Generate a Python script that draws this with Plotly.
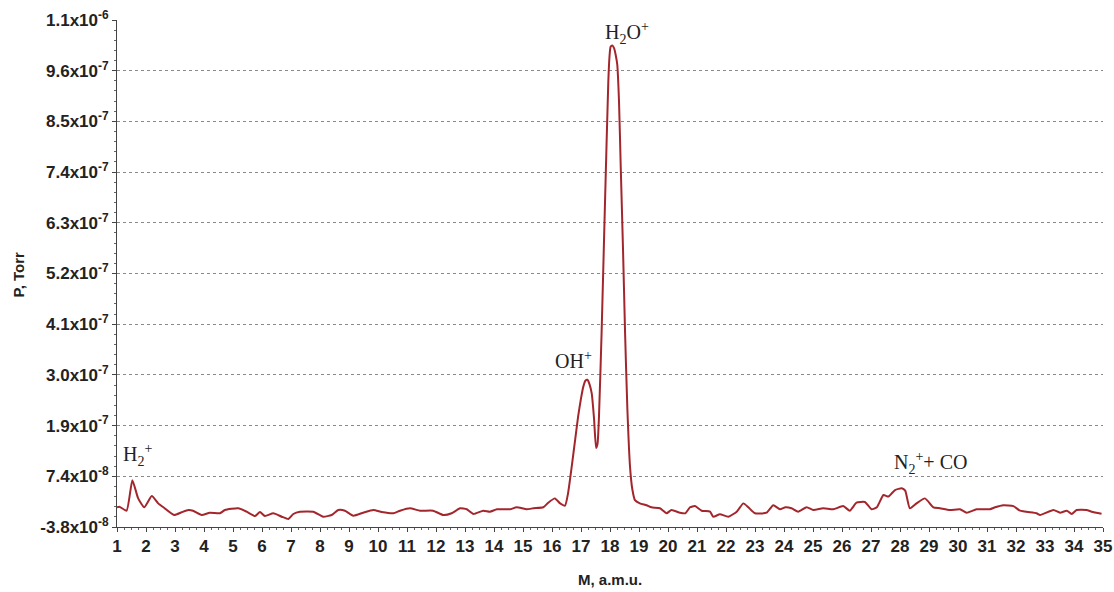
import numpy as np
import plotly.graph_objects as go

# mass (a.m.u.) and pressure (in units of 1e-8 Torr)
mass = [1.00, 1.08, 1.33, 1.53, 1.73, 1.94, 2.20, 2.42, 2.60, 2.97, 3.23, 3.46, 3.62, 3.92,
        4.20, 4.55, 4.72, 5.18, 5.47, 5.76, 5.93, 6.10, 6.39, 6.68, 6.91, 7.08, 7.31, 7.77,
        8.11, 8.40, 8.63, 8.86, 9.15, 9.49, 9.84, 10.13, 10.53, 10.76, 11.10, 11.45, 11.90,
        12.25, 12.54, 12.83, 13.06, 13.29, 13.63, 13.86, 14.10, 14.55, 14.78, 15.13, 15.36,
        15.70, 15.87, 16.10, 16.28, 16.45, 16.55, 16.68, 16.80, 16.90, 17.00, 17.08, 17.15,
        17.22, 17.30, 17.37, 17.45, 17.52, 17.57, 17.62, 17.71, 17.83, 17.94, 17.98, 18.02,
        18.08, 18.14, 18.20, 18.25, 18.31, 18.37, 18.45, 18.52, 18.60, 18.69, 18.77, 18.86,
        19.03, 19.26,
        19.43, 19.72, 19.95, 20.12, 20.41, 20.60, 20.76, 20.93, 21.16, 21.45, 21.56, 21.79,
        22.08, 22.37, 22.60, 22.77, 23.00, 23.40, 23.63, 23.86, 24.05, 24.26, 24.49, 24.78,
        25.01, 25.35, 25.70, 26.04, 26.27, 26.50, 26.79, 27.02, 27.20, 27.43, 27.60, 27.83,
        28.06, 28.18, 28.34, 28.57, 28.86, 29.15, 29.38, 29.72, 30.07, 30.30, 30.64, 31.10,
        31.28, 31.56, 31.91, 32.14, 32.71, 32.83, 33.29, 33.52, 33.75, 33.92, 34.09, 34.43,
        34.61, 34.95]
pressure_e8 = [0.54, 0.67, -0.21, 6.5, 2.5, 0.54, 3.0, 1.4, 0.54, -1.16, -0.55, -0.06, -0.21, -1.16,
               -0.65, -0.78, -0.06, 0.32, -0.43, -1.38, -0.5, -1.38, -0.78, -1.53, -2.04, -0.94, -0.43, -0.43,
               -1.53, -1.16, -0.06, -0.21, -1.31, -0.65, -0.06, -0.5, -0.78, -0.21, 0.32, -0.21, -0.21,
               -1.16, -0.78, 0.32, 0.1, -0.94, -0.21, -0.43, 0.1, 0.1, 0.54, 0.1, 0.32,
               0.54, 1.55, 2.5, 1.4, 0.9, 3.5, 9.5, 15.5, 20.5, 24.5, 27.1, 28.4,
               28.6, 27.5, 25.6, 20.0, 13.6, 14.5, 20.5, 38.9, 68.2, 93.9, 99.5, 101.9,
               102.2, 101.6, 100.0, 98.0, 90.0, 75.5, 57.0, 38.9, 22.0, 9.5, 4.5, 2.1,
               1.4, 1.0,
               0.54, 0.32, -0.78, -0.06, -0.65, -0.78, 0.54, 0.8, -0.21, -0.43, -1.53, -1.0,
               -1.53, -0.43, 1.4, 0.54, -0.78, -0.65, 1.0, 0.1, 0.54, 0.32, -0.43, 0.54,
               -0.06, 0.32, 0.1, 0.8, -0.21, 1.55, 1.7, 0.1, 0.54, 3.24, 2.9, 4.34,
               4.72, 4.2, 0.32, 1.4, 2.5, 0.54, 0.32, -0.06, 0.1, -0.65, 0.1, 0.1,
               0.54, 1.0, 0.8, -0.21, -0.78, -1.16, -0.06, -0.65, -0.21, -0.94, -0.06, -0.06,
               -0.43, -0.9]
pressure = np.array(pressure_e8) * 1e-8

y_tick_vals = [-3.8e-8, 7.36e-8, 1.852e-7, 2.968e-7, 4.084e-7, 5.2e-7, 6.316e-7,
               7.432e-7, 8.548e-7, 9.664e-7, 1.078e-6]
y_tick_text = ["-3.8x10<sup>-8</sup>", "7.4x10<sup>-8</sup>", "1.9x10<sup>-7</sup>",
               "3.0x10<sup>-7</sup>", "4.1x10<sup>-7</sup>", "5.2x10<sup>-7</sup>",
               "6.3x10<sup>-7</sup>", "7.4x10<sup>-7</sup>", "8.5x10<sup>-7</sup>",
               "9.6x10<sup>-7</sup>", "1.1x10<sup>-6</sup>"]
x_tick_vals = list(range(1, 36))

labels = ["H<sub>2</sub><sup>+</sup>", "OH<sup>+</sup>", "H<sub>2</sub>O<sup>+</sup>",
          "N<sub>2</sub><sup>+</sup>+ CO"]
label_mass = [1.72, 16.75, 18.6, 29.05]
label_p = [1.2e-7, 3.3e-7, 1.049e-6, 1.03e-7]

x_title = "M, a.m.u."
y_title = "P, Torr"

y_min, y_max = y_tick_vals[0], y_tick_vals[-1]
step = (y_max - y_min) / 10

fig = go.Figure()
fig.add_trace(go.Scatter(x=mass, y=pressure, mode="lines",
                         line=dict(color="#a3262c", width=2, shape="spline", smoothing=0.5),
                         showlegend=False, hoverinfo="x+y"))

for t, xm, yp in zip(labels, label_mass, label_p):
    fig.add_annotation(x=xm, y=yp, text=t, showarrow=False,
                       font=dict(family="Liberation Serif, Times New Roman, serif",
                                 size=20, color="#222"))

tickfont = dict(family="Liberation Sans, Arial, sans-serif", size=17, color="#222")
titlefont = dict(family="Liberation Sans, Arial, sans-serif", size=15, color="#222")

fig.add_annotation(x=0.5, y=-0.104, xref="paper", yref="paper", text=f"<b>{x_title}</b>",
                   showarrow=False, font=titlefont, xanchor="center", yanchor="middle")
fig.add_annotation(x=-0.1, y=0.497, xref="paper", yref="paper", text=f"<b>{y_title}</b>",
                   showarrow=False, font=titlefont, textangle=-90,
                   xanchor="center", yanchor="middle")

fig.update_layout(
    width=1114, height=592,
    margin=dict(l=117, r=11, t=20, b=65, autoexpand=False),
    paper_bgcolor="white", plot_bgcolor="white",
    xaxis=dict(range=[1, 35], tickmode="array", tickvals=x_tick_vals,
               ticktext=[f"<b>{v}</b>" for v in x_tick_vals], automargin=False,
               showgrid=False, zeroline=False, showline=True, linecolor="#444",
               linewidth=1, ticks="outside", ticklen=4, tickcolor="#444",
               tickfont=tickfont,
               minor=dict(tickmode="linear", tick0=1, dtick=0.25, ticks="outside",
                          ticklen=2, tickcolor="#666")),
    yaxis=dict(range=[y_min, y_max], tickmode="array", tickvals=y_tick_vals,
               ticktext=[f"<b>{t}</b>" for t in y_tick_text], automargin=False,
               showgrid=True, gridcolor="#8a8a8a", griddash="dot", gridwidth=1,
               zeroline=False, showline=True, linecolor="#444", linewidth=1,
               ticks="outside", ticklen=4, tickcolor="#444", tickfont=tickfont,
               minor=dict(tickmode="linear", tick0=y_min, dtick=step / 5,
                          ticks="outside", ticklen=2, tickcolor="#666", showgrid=False)),
    xaxis2=dict(overlaying="x", range=[1, 35], side="bottom", anchor="y", automargin=False,
                tickmode="array", tickvals=x_tick_vals, showticklabels=False,
                showgrid=False, zeroline=False, ticks="inside", ticklen=4, tickcolor="#444",
                minor=dict(tickmode="linear", tick0=1, dtick=0.25, ticks="inside",
                           ticklen=2, tickcolor="#666")),
    yaxis2=dict(overlaying="y", range=[y_min, y_max], side="left", anchor="x", automargin=False,
                tickmode="array", tickvals=y_tick_vals, showticklabels=False,
                showgrid=False, zeroline=False, ticks="inside", ticklen=4, tickcolor="#444",
                minor=dict(tickmode="linear", tick0=y_min, dtick=step / 5, ticks="inside",
                           ticklen=2, tickcolor="#666")),
)

fig.write_html("out.html")
